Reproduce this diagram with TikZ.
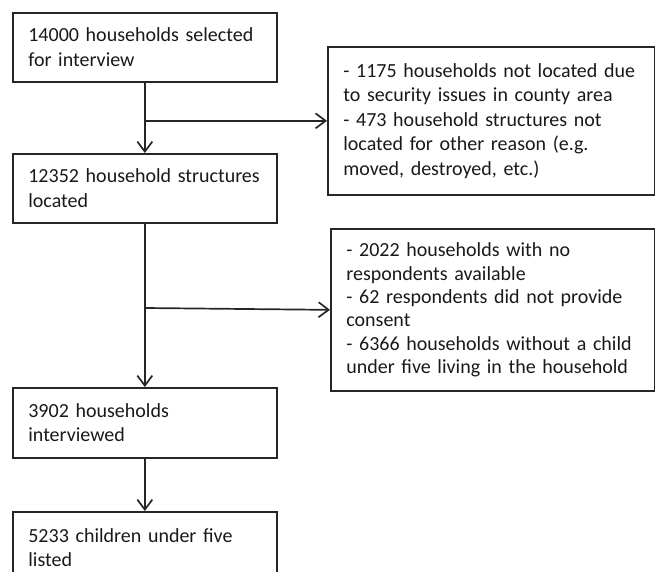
\documentclass[tikz,border=0pt]{standalone}
\usepackage{fontspec}
\setmainfont{Carlito}
\usetikzlibrary{arrows.meta}
\begin{document}
\begin{tikzpicture}[x=1pt,y=-1pt,
  box/.style={draw=black!85, line width=1.7pt, rectangle, anchor=north west,
    inner xsep=15.5pt, inner ysep=0pt, align=left, text=black!90,
    font=\fontsize{20}{24.5}\selectfont},
  arr/.style={draw=black!85, line width=1.7pt, -{Straight Barb[length=10pt,width=15pt,line width=1.7pt]}}
]
\useasboundingbox (0,0) rectangle (655,572);
\clip (0,0) rectangle (655,572);
\node[box, text width=233pt, minimum height=69pt] (b1) at (12,12)
  {\mbox{14000 households selected}\\\mbox{for interview}};
\node[box, text width=233pt, minimum height=69pt] (b2) at (12,153)
  {\mbox{12352 household structures}\\\mbox{located}};
\node[box, text width=233pt, minimum height=70pt] (b3) at (12,387)
  {\mbox{3902 households}\\\mbox{interviewed}};
\node[box, text width=233pt, minimum height=72pt] (b4) at (12,511)
  {\mbox{5233 children under five}\\\mbox{listed}};
\node[box, text width=296pt, minimum height=148pt] (r1) at (327,46)
  {\mbox{- 1175 households not located due}\\\mbox{to security issues in county area}\\\mbox{- 473 household structures not}\\\mbox{located for other reason (e.g.}\\\mbox{moved, destroyed, etc.)}};
\node[box, text width=293pt, minimum height=162pt, font=\fontsize{20}{23.3}\selectfont] (r2) at (330,228)
  {\mbox{- 2022 households with no}\\\mbox{respondents available}\\\mbox{- 62 respondents did not provide}\\\mbox{consent}\\\mbox{- 6366 households without a child}\\\mbox{under five living in the household}};
\draw[arr] (b1.south) -- (b2.north);
\draw[arr] (b1.south |- r1.west) -- (r1.west);
\draw[arr] (b2.south) -- (b3.north);
\coordinate (j2) at (b2.south |- 0,308);
\draw[arr] (j2) -- (r2.west);
\draw[arr] (b3.south) -- (b4.north);
\end{tikzpicture}
\end{document}
